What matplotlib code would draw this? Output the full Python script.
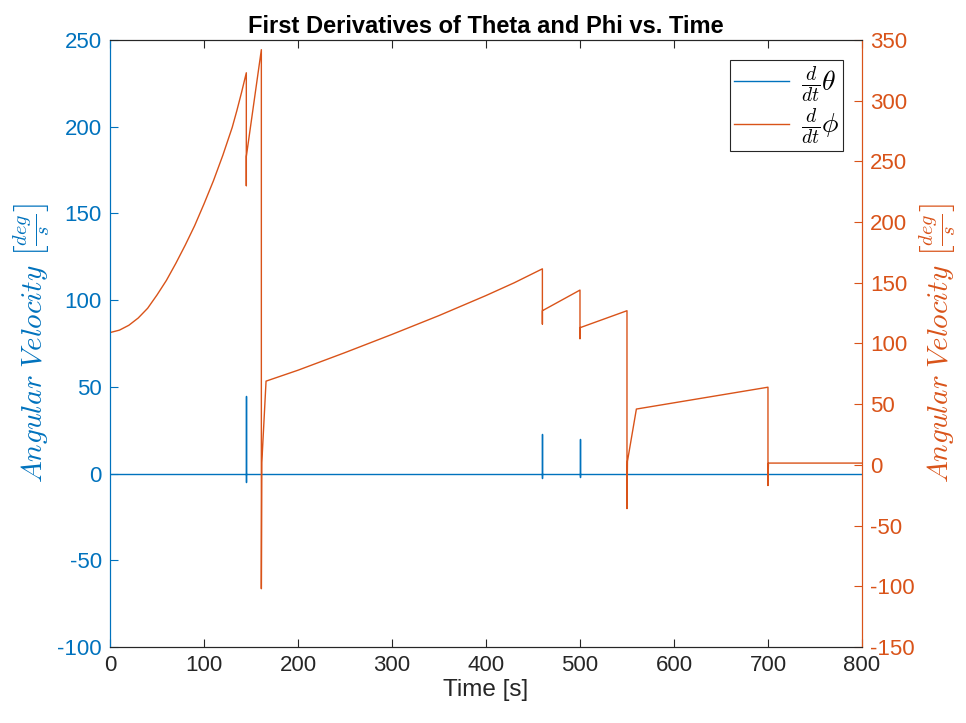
import matplotlib.pyplot as plt

# First derivatives of theta and phi
plt.rcParams['font.family'] = ['Liberation Sans', 'DejaVu Sans']
plt.rcParams['mathtext.fontset'] = 'cm'
plt.rcParams['axes.unicode_minus'] = False

# theta dot (left axis) - zero with short spikes at the events
thetaT = [0, 145, 145, 145, 145, 460, 460, 460, 460, 500, 500, 500, 500, 800]
thetaV = [0, 0, 45, -5, 0, 0, 22.7, -2.7, 0, 0, 19.8, -1.9, 0, 0]

# phi dot (right axis)
phiT = [0, 10, 20, 30, 40, 50, 60, 70, 80, 90, 100, 110, 120, 130, 135, 140, 145, 145, 145,
        161, 161, 161.5, 166, 200, 250, 300, 350, 400, 430, 460, 460, 460,
        500, 500, 500, 550, 550, 550.5, 560, 700, 700, 700.5, 800]
phiV = [109, 111, 115, 121, 129, 140, 152, 166, 181, 197, 215, 234, 255, 278, 292, 307, 323, 230, 254,
        342, -102, 2, 69, 78, 92.5, 107.5, 123, 139.5, 150, 161.5, 116, 127,
        144, 104, 113, 127, -36, 3, 46, 64, -17, 1.5, 1.5]

xTicks = list(range(0, 801, 100))
leftTicks = list(range(-100, 251, 50))
rightTicks = list(range(-150, 351, 50))

blue = '#0072BD'
orange = '#D95319'
dark = '#262626'

fig = plt.figure(figsize=(9.66, 7.23), dpi=100)
ax = fig.add_axes([0.1139, 0.1051, 0.7784, 0.8396])
ax2 = ax.twinx()

l1, = ax.plot(thetaT, thetaV, color=blue, lw=1.0, label=r'$\frac{d}{dt}\theta$')
l2, = ax2.plot(phiT, phiV, color=orange, lw=1.0, label=r'$\frac{d}{dt}\phi$')

ax.set_xlim(0, 800)
ax.set_ylim(-100, 250)
ax2.set_ylim(-150, 350)
ax.set_xticks(xTicks)
ax.set_yticks(leftTicks)
ax2.set_yticks(rightTicks)

ax.tick_params(axis='x', direction='in', top=True, labelsize=16, colors=dark, length=6, pad=6)
ax.tick_params(axis='y', direction='in', labelsize=16, colors=blue, length=6, pad=6)
ax2.tick_params(axis='y', direction='in', labelsize=16, colors=orange, length=6, pad=6)

for a in (ax, ax2):
    a.spines['top'].set_color(dark)
    a.spines['bottom'].set_color(dark)
    a.spines['left'].set_color(blue)
    a.spines['right'].set_color(orange)

ylab = r'$Angular\ Velocity\ \left[\frac{deg}{s}\right]$'
ax.set_xlabel('Time [s]', fontsize=17.5, color=dark, labelpad=2)
ax.set_ylabel(ylab, fontsize=21, color=blue, labelpad=4)
ax2.set_ylabel(ylab, fontsize=21, color=orange, labelpad=2)
ax.set_title('First Derivatives of Theta and Phi vs. Time', fontsize=17, fontweight='bold', pad=5)

leg = ax2.legend(handles=[l1, l2], loc='upper right', fontsize=20, fancybox=False,
                 edgecolor=dark, framealpha=1, handlelength=2.0, handletextpad=0.4,
                 borderpad=0.15, labelspacing=0.05, borderaxespad=0,
                 bbox_to_anchor=(0.975, 0.967))
leg.get_frame().set_linewidth(0.8)

fig.savefig('out.png', dpi=100)
